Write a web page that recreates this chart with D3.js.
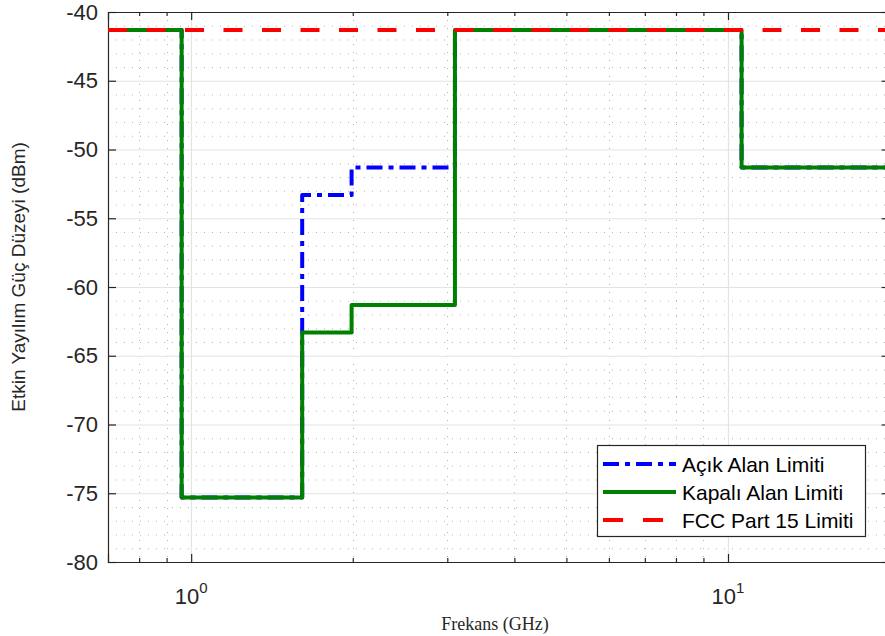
<!DOCTYPE html>
<html>
<head>
<meta charset="utf-8">
<script src="https://cdn.jsdelivr.net/npm/d3@7"></script>
<style>
  html, body { margin: 0; padding: 0; background: #fff; }
  svg { display: block; }
</style>
</head>
<body>
<svg id="chart" width="885" height="636"></svg>
<script>
// UWB emission masks: band edges in GHz and the EIRP level (dBm) in each band
const bandEdges  = [0.7, 0.96, 1.61, 1.99, 3.1, 10.6, 20];
const acikAlan   = [-41.3, -75.3, -53.3, -51.3, -41.3, -51.3];
const kapaliAlan = [-41.3, -75.3, -63.3, -61.3, -41.3, -51.3];
const fccPart15  = [-41.3];
const fccEdges   = [0.7, 20];

const xDomain = [0.7, 20];
const yDomain = [-80, -40];
const yTicks  = [-80, -75, -70, -65, -60, -55, -50, -45, -40];
const xMajor  = [1, 10];
const xMinor  = [0.8, 0.9, 2, 3, 4, 5, 6, 7, 8, 9];

const seriesNames = ["Açık Alan Limiti", "Kapalı Alan Limiti", "FCC Part 15 Limiti"];
const seriesColors = ["#0000ff", "#008000", "#ff0000"];
const seriesDash = ["16,6,5,6", null, "19,19.5"];

const m = { left: 108, top: 12, right: 889.6, bottom: 562 };
const svg = d3.select("#chart");

const x = d3.scaleLog().domain(xDomain).range([m.left, m.right]);
const y = d3.scaleLinear().domain(yDomain).range([m.bottom, m.top]);

const axisColor = "#262626";

// clip path for the plotting area
svg.append("defs").append("clipPath").attr("id", "plotClip")
  .append("rect").attr("x", m.left).attr("y", m.top)
  .attr("width", m.right - m.left).attr("height", m.bottom - m.top);

const grid = svg.append("g");
// minor grid (dotted)
const yMinor = d3.range(-79, -40, 1).filter(v => v % 5 !== 0);
grid.selectAll("line.ymin").data(yMinor).join("line")
  .attr("x1", m.left).attr("x2", m.right)
  .attr("y1", d => y(d) + 0.5).attr("y2", d => y(d) + 0.5)
  .attr("stroke", "#b4b4b4").attr("stroke-width", 1).attr("stroke-dasharray", "1,7");
grid.selectAll("line.xmin").data(xMinor).join("line")
  .attr("x1", d => Math.round(x(d)) + 0.5).attr("x2", d => Math.round(x(d)) + 0.5)
  .attr("y1", m.top).attr("y2", m.bottom)
  .attr("stroke", "#b4b4b4").attr("stroke-width", 1).attr("stroke-dasharray", "1,7");
// major grid (solid)
grid.selectAll("line.ymaj").data(yTicks.slice(1, -1)).join("line")
  .attr("x1", m.left).attr("x2", m.right)
  .attr("y1", d => y(d) + 0.5).attr("y2", d => y(d) + 0.5)
  .attr("stroke", "#e3e3e3").attr("stroke-width", 1.2);
grid.selectAll("line.xmaj").data(xMajor).join("line")
  .attr("x1", d => Math.round(x(d)) + 0.5).attr("x2", d => Math.round(x(d)) + 0.5)
  .attr("y1", m.top).attr("y2", m.bottom)
  .attr("stroke", "#e3e3e3").attr("stroke-width", 1.2);

// axes with inward ticks on all four sides
const fontTick = "Liberation Sans, Arial, sans-serif";
const axL = svg.append("g").attr("transform", `translate(${m.left},0)`)
  .call(d3.axisLeft(y).tickValues(yTicks).tickSize(-8).tickFormat(d => String(d)).tickPadding(10));
const axR = svg.append("g").attr("transform", `translate(${m.right},0)`)
  .call(d3.axisRight(y).tickValues(yTicks).tickSize(-8).tickFormat(""));
const axB = svg.append("g").attr("transform", `translate(0,${m.bottom})`)
  .call(d3.axisBottom(x).tickValues(xMajor).tickSize(-8).tickFormat(""));
const axT = svg.append("g").attr("transform", `translate(0,${m.top})`)
  .call(d3.axisTop(x).tickValues(xMajor).tickSize(-8).tickFormat(""));
const axBm = svg.append("g").attr("transform", `translate(0,${m.bottom})`)
  .call(d3.axisBottom(x).tickValues(xMinor).tickSize(-4).tickFormat(""));
const axTm = svg.append("g").attr("transform", `translate(0,${m.top})`)
  .call(d3.axisTop(x).tickValues(xMinor).tickSize(-4).tickFormat(""));
[axL, axR, axB, axT, axBm, axTm].forEach(g => {
  g.selectAll(".domain").attr("stroke", axisColor).attr("stroke-width", 1.2);
  g.selectAll(".tick line").attr("stroke", axisColor).attr("stroke-width", 1.2);
});
axBm.select(".domain").remove();
axTm.select(".domain").remove();
axL.selectAll(".tick text").attr("font-family", fontTick).attr("font-size", 22)
  .attr("fill", axisColor);

// x tick labels as powers of ten
const xl = svg.append("g");
xMajor.forEach(v => {
  const t = xl.append("text").attr("x", x(v)).attr("y", 604)
    .attr("text-anchor", "middle").attr("font-family", fontTick)
    .attr("font-size", 22).attr("fill", axisColor);
  t.append("tspan").text("10");
  t.append("tspan").attr("dy", -11).attr("font-size", 15).text(String(Math.round(Math.log10(v))));
});

// series lines
const line = d3.line().x(d => x(d[0])).y(d => y(d[1])).curve(d3.curveStepAfter);
function stepPoints(edges, vals) {
  const pts = vals.map((v, i) => [edges[i], v]);
  pts.push([edges[edges.length - 1], vals[vals.length - 1]]);
  return pts;
}
const plot = svg.append("g").attr("clip-path", "url(#plotClip)");
const seriesData = [
  stepPoints(bandEdges, acikAlan),
  stepPoints(bandEdges, kapaliAlan),
  stepPoints(fccEdges, fccPart15)
];
seriesData.forEach((pts, i) => {
  plot.append("path").attr("d", line(pts))
    .attr("fill", "none").attr("stroke", seriesColors[i]).attr("stroke-width", 4)
    .attr("stroke-linejoin", "round")
    .attr("stroke-dasharray", seriesDash[i]);
});

// axis titles
svg.append("text")
  .attr("transform", `translate(25,${(m.top + m.bottom) / 2 - 10}) rotate(-90)`)
  .attr("text-anchor", "middle").attr("font-family", fontTick)
  .attr("font-size", 19).attr("fill", axisColor)
  .text("Etkin Yayılım Güç Düzeyi (dBm)");
svg.append("text")
  .attr("x", 495).attr("y", 630).attr("text-anchor", "middle")
  .attr("font-family", "Liberation Serif, Times New Roman, serif")
  .attr("font-size", 18).attr("fill", axisColor)
  .text("Frekans (GHz)");

// legend
const lg = svg.append("g");
lg.append("rect").attr("x", 597.5).attr("y", 445.5).attr("width", 268).attr("height", 91)
  .attr("fill", "#fff").attr("stroke", axisColor).attr("stroke-width", 1.2);
const rowY = [464, 492, 520];
seriesNames.forEach((name, i) => {
  lg.append("line").attr("x1", 603).attr("x2", 676).attr("y1", rowY[i]).attr("y2", rowY[i])
    .attr("stroke", seriesColors[i]).attr("stroke-width", 4)
    .attr("stroke-dasharray", i === 2 ? "20,20" : seriesDash[i]);
  lg.append("text").attr("x", 682).attr("y", rowY[i]).attr("dy", "0.36em")
    .attr("font-family", fontTick).attr("font-size", 21).attr("fill", "#000")
    .text(name);
});
</script>
</body>
</html>
